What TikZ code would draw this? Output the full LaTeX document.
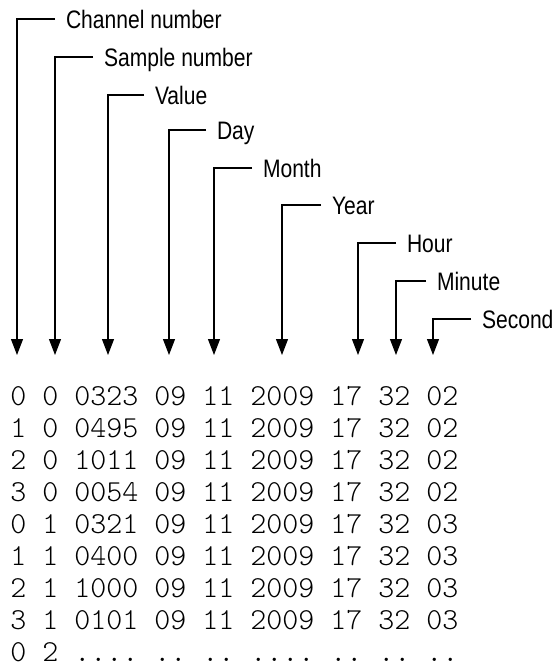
\documentclass[tikz,border=0pt]{standalone}
\usepackage{graphicx}
\usepackage{fontspec}
\newfontfamily\labelfont{Liberation Sans}
\usetikzlibrary{arrows.meta}
\begin{document}
\begin{tikzpicture}[x=0.75pt,y=-0.75pt,
  lbl/.style={inner sep=0pt, outer xsep=8.25pt, outer ysep=0pt, anchor=west,
    text height=13.6pt, text depth=0pt,
    font=\labelfont\fontsize{15.8pt}{18pt}\selectfont},
  datarow/.style={inner sep=0pt, anchor=base west,
    font={\fontsize{22.857pt}{30pt}\fontfamily{lmtt}\fontseries{l}\selectfont\frenchspacing}},
  conn/.style={line width=0.8pt, -{Triangle[length=12pt,width=9pt]}}]
\useasboundingbox (0,0) rectangle (556,668);

% labels
\node[lbl] (chan) at (55,19)  {\scalebox{1}[1.2]{Channel number}};
\node[lbl] (samp) at (93,57)  {\scalebox{1}[1.2]{Sample number}};
\node[lbl] (val)  at (144,95) {\scalebox{1}[1.2]{Value}};
\node[lbl] (day)  at (206,130) {\scalebox{1}[1.2]{Day}};
\node[lbl] (mon)  at (252,168) {\scalebox{1}[1.2]{Month}};
\node[lbl] (year) at (321,205) {\scalebox{1}[1.2]{Year}};
\node[lbl] (hour) at (396,243) {\scalebox{1}[1.2]{Hour}};
\node[lbl] (min)  at (426,281) {\scalebox{1}[1.2]{Minute}};
\node[lbl] (sec)  at (471,319) {\scalebox{1}[1.2]{Second}};

% arrow tips
\coordinate (tchan) at (17,355);
\coordinate (tsamp) at (55,355);
\coordinate (tval)  at (108,355);
\coordinate (tday)  at (169,355);
\coordinate (tmon)  at (214,355);
\coordinate (tyear) at (282,355);
\coordinate (thour) at (358,355);
\coordinate (tmin)  at (396,355);
\coordinate (tsec)  at (433,355);

\draw[conn] (chan.west) -| (tchan);
\draw[conn] (samp.west) -| (tsamp);
\draw[conn] (val.west)  -| (tval);
\draw[conn] (day.west)  -| (tday);
\draw[conn] (mon.west)  -| (tmon);
\draw[conn] (year.west) -| (tyear);
\draw[conn] (hour.west) -| (thour);
\draw[conn] (min.west)  -| (tmin);
\draw[conn] (sec.west)  -| (tsec);

% data rows
\node[datarow] (r1) at (10,405.0) {0 0 0323 09 11 2009 17 32 02};
\node[datarow] (r2) at (10,437.1) {1 0 0495 09 11 2009 17 32 02};
\node[datarow] (r3) at (10,469.2) {2 0 1011 09 11 2009 17 32 02};
\node[datarow] (r4) at (10,501.3) {3 0 0054 09 11 2009 17 32 02};
\node[datarow] (r5) at (10,533.4) {0 1 0321 09 11 2009 17 32 03};
\node[datarow] (r6) at (10,565.5) {1 1 0400 09 11 2009 17 32 03};
\node[datarow] (r7) at (10,597.6) {2 1 1000 09 11 2009 17 32 03};
\node[datarow] (r8) at (10,629.7) {3 1 0101 09 11 2009 17 32 03};
\node[datarow] (r9) at (10,661.8) {0 2 .... .. .. .... .. .. ..};
\end{tikzpicture}
\end{document}
